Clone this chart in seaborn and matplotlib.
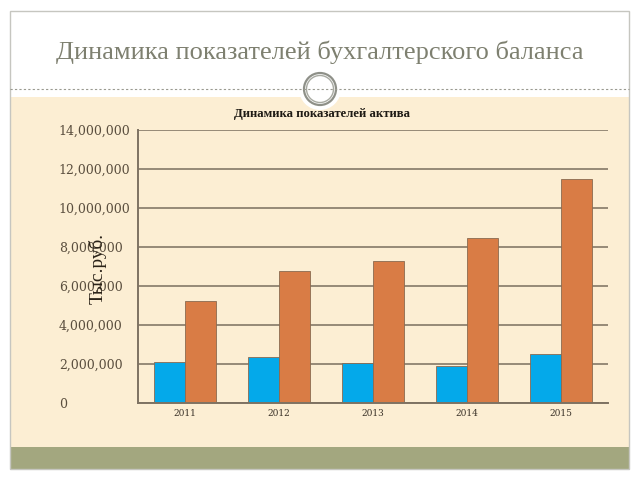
import matplotlib
matplotlib.use("Agg")
import matplotlib.pyplot as plt
import matplotlib.patches as mpatches
import matplotlib.ticker as mticker
import seaborn as sns
import pandas as pd

# ---- data ----
years = ["2011", "2012", "2013", "2014", "2015"]
series_names = ["Ряд 1", "Ряд 2"]
series_1 = [2120000, 2370000, 2070000, 1910000, 2500000]
series_2 = [5250000, 6780000, 7300000, 8450000, 11490000]
y_ticks = [0, 2000000, 4000000, 6000000, 8000000, 10000000, 12000000, 14000000]

main_title = "Динамика показателей бухгалтерского баланса"
chart_title = "Динамика показателей актива"
y_label = "Тыс.руб."

df = pd.DataFrame({
    "year": years * 2,
    "series": [series_names[0]] * len(years) + [series_names[1]] * len(years),
    "value": series_1 + series_2,
})

sns.set_theme(style="white")
plt.rcParams["font.family"] = ["DejaVu Serif"]

W, H = 640, 480
fig = plt.figure(figsize=(6.4, 4.8), dpi=100)
fig.patch.set_facecolor("white")

# ---- slide decoration (pixel coordinates) ----
bg = fig.add_axes([0, 0, 1, 1], zorder=0)
bg.set_xlim(0, W)
bg.set_ylim(H, 0)
bg.axis("off")
beige = "#FCEED3"
bg.add_patch(mpatches.Rectangle((10, 97), 619, 350, facecolor=beige, edgecolor="none"))
bg.add_patch(mpatches.Rectangle((10, 447), 619, 22, facecolor="#A3A77F", edgecolor="none"))
bg.add_patch(mpatches.Rectangle((10, 11), 619, 458, facecolor="none", edgecolor="#C6C6C0", lw=1.0))
bg.plot([10, 629], [89, 89], ls=(0, (2, 2)), color="#9A9A90", lw=0.8)
bg.add_patch(mpatches.Circle((320, 89), 21, facecolor="white", edgecolor="none"))
bg.add_patch(mpatches.Circle((320, 89), 16, facecolor="white", edgecolor="#8E9088", lw=1.6))
bg.add_patch(mpatches.Circle((320, 89), 13.5, facecolor="none", edgecolor="#A8AAA2", lw=1.0))
bg.text(320, 52, main_title, ha="center", va="center", fontsize=19,
        family="Liberation Serif", color="#7E8070")
bg.text(322, 114, chart_title, ha="center", va="center", fontsize=9.2,
        family="Liberation Serif", fontweight="bold", color="#1E1A14")

# ---- chart ----
ax = fig.add_axes([138 / W, 1 - 403 / H, (608 - 138) / W, (403 - 130) / H], zorder=1)
ax.set_facecolor("none")
sns.barplot(data=df, x="year", y="value", hue="series", order=years,
            hue_order=series_names, palette=["#04A9EA", "#D97C45"],
            width=0.66, gap=0, saturation=1, ax=ax, legend=False,
            edgecolor="#8A6A50", linewidth=0.6)

ax.set_ylim(0, 14000000)
ax.set_xlim(-0.5, 4.5)
ax.set_yticks(y_ticks)
ax.yaxis.set_major_formatter(mticker.FuncFormatter(lambda v, p: f"{int(v):,}"))
ax.grid(axis="y", color="#8E8270", lw=1.3)
ax.grid(axis="x", visible=False)
ax.set_axisbelow(True)
for s in ["top", "right"]:
    ax.spines[s].set_visible(False)
for s in ["left", "bottom"]:
    ax.spines[s].set_color("#7E7262")
    ax.spines[s].set_linewidth(1.4)
ax.tick_params(axis="y", length=0, pad=57, labelsize=9, labelcolor="#5A4E3E")
for lbl in ax.get_yticklabels():
    lbl.set_horizontalalignment("left")
ax.tick_params(axis="x", length=0, pad=4, labelsize=6.5, labelcolor="#3A3228")
ax.set_xlabel("")
ax.set_ylabel(y_label, family="Liberation Serif", fontsize=14, color="#2A2218")
ax.yaxis.set_label_coords(-0.066, 0.494)

fig.savefig("out.png", dpi=100)
